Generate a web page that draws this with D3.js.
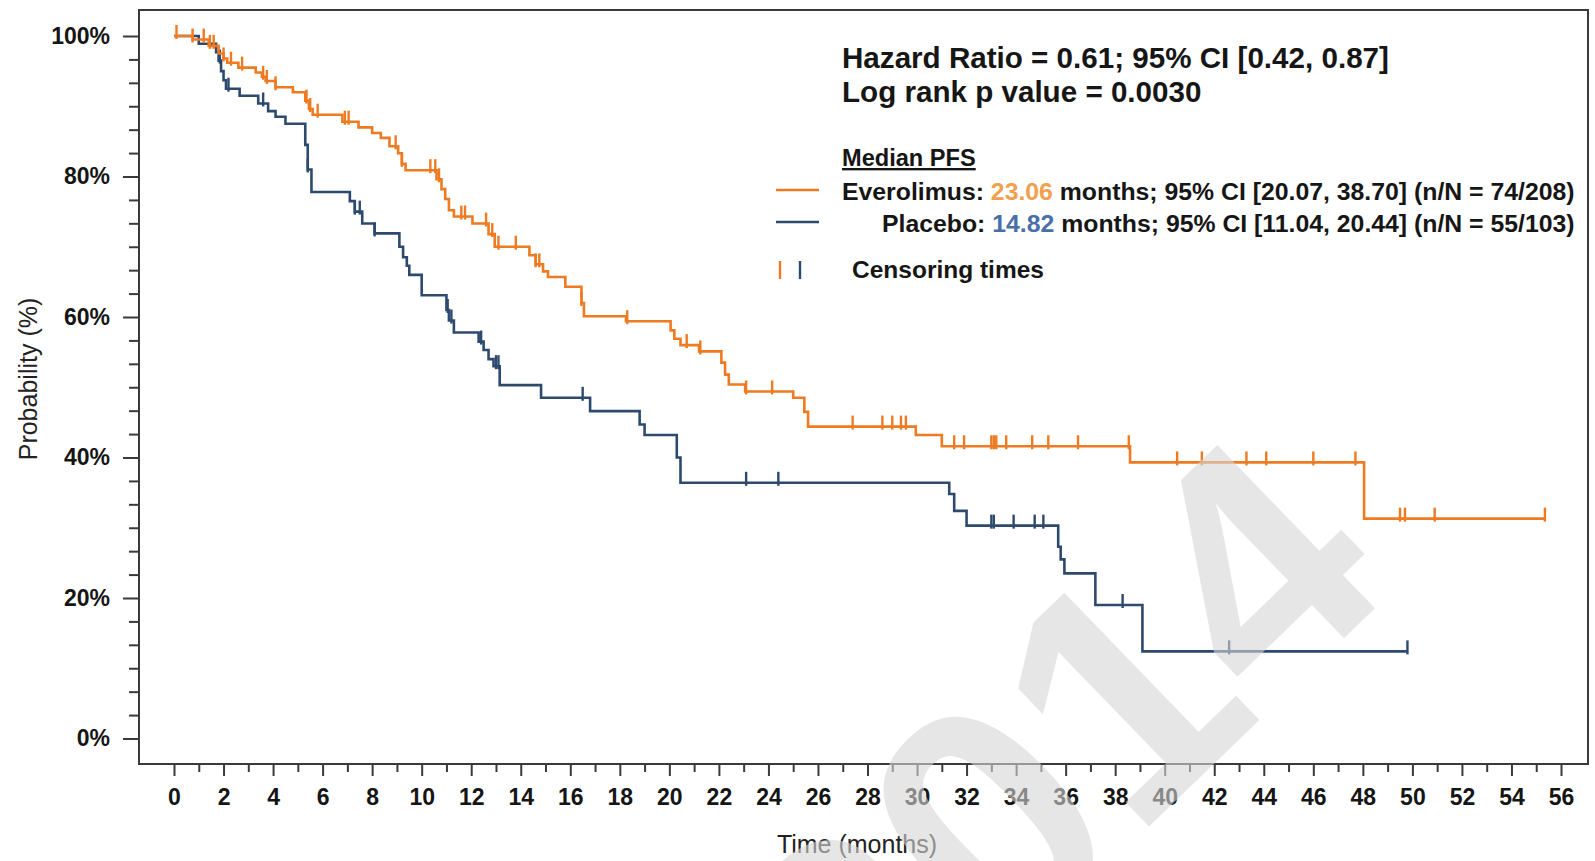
<!DOCTYPE html>
<html><head><meta charset="utf-8">
<script src="https://cdn.jsdelivr.net/npm/d3@7"></script>
<style>
html,body{margin:0;padding:0;background:#fff;}
svg{display:block;}
text{font-family:"Liberation Sans",Arial,Helvetica,sans-serif;}
</style></head><body>
<svg id="chart" width="1595" height="861"></svg>
<script>
// ---------------- data ----------------
const xTickValues = d3.range(0, 57, 2);          // labelled months
const xMinorValues = d3.range(1, 56, 2);         // unlabelled months
const yTickValues = [0, 20, 40, 60, 80, 100];    // labelled %
const yTickLabels = ["0%", "20%", "40%", "60%", "80%", "100%"];

// Everolimus KM steps (time in months, survival %)
const evTimes = [0, 0.75, 1.4, 1.8, 2.0, 2.15, 2.6, 3.3, 3.55, 3.7, 4.1, 4.8, 5.3, 5.45, 5.6, 6.8, 7.45, 8.0, 8.35, 8.7, 9.05, 9.2, 9.35,
  10.6, 10.8, 10.95, 11.1, 11.3, 12.05, 12.7, 12.95, 14.35, 14.6, 14.9, 15.1, 15.8, 16.45, 16.55, 18.25, 20.05, 20.2, 20.45, 21.2,
  22.1, 22.25, 22.4, 23.06, 25.0, 25.45, 25.6, 29.95, 31.0, 38.6, 48.05];
const evSurv = [100, 99.5, 98.6, 97.5, 96.8, 96.2, 95.5, 94.8, 94.2, 93.6, 92.7, 92.0, 90.8, 89.6, 88.8, 87.8, 87.0, 86.2, 85.5, 84.3, 83.3, 81.8, 80.9,
  79.6, 78.2, 76.8, 75.2, 74.3, 73.3, 71.8, 70.0, 68.8, 67.5, 66.5, 65.7, 64.3, 62.0, 60.1, 59.4, 58.1, 56.9, 56.0, 55.1,
  53.5, 51.8, 50.4, 49.4, 48.5, 46.5, 44.4, 43.2, 41.6, 39.3, 31.3];
const evEnd = 55.35;
const evCensor = [0.1, 0.75, 1.2, 1.45, 1.6, 2.0, 2.3, 2.75, 3.6, 3.75, 4.1, 5.35, 5.5, 5.8, 6.9, 7.05, 8.95, 9.2, 10.35, 10.55, 10.7,
  11.6, 11.75, 12.6, 12.85, 13.1, 13.8, 14.6, 14.75, 16.45, 18.3, 20.7, 21.25, 23.1, 24.15, 27.4, 28.6, 29.0, 29.35, 29.55,
  31.5, 31.9, 33.0, 33.1, 33.2, 33.6, 34.65, 35.3, 36.5, 38.55, 40.5, 41.5, 43.3, 44.1, 46.0, 47.7, 49.5, 49.7, 50.9, 55.35];

// Placebo KM steps
const plTimes = [0, 1.0, 1.7, 1.8, 1.9, 2.0, 2.1, 2.65, 3.4, 3.8, 4.1, 4.5, 5.3, 5.4, 5.55, 7.1, 7.3, 7.6, 8.1, 9.1, 9.25, 9.4, 9.5, 10.0,
  11.0, 11.1, 11.3, 12.3, 12.5, 12.7, 12.9, 13.15, 14.82, 16.8, 18.8, 19.0, 20.3, 20.45, 31.3, 31.5, 32.0, 35.7, 35.8, 35.95, 37.2, 39.1];
const plSurv = [100, 98.9, 97.7, 96.5, 95.0, 93.7, 92.5, 91.5, 90.4, 89.3, 88.5, 87.5, 84.5, 81.0, 77.8, 76.5, 75.0, 73.3, 71.9, 70.0, 68.5, 67.3, 66.0, 63.1,
  61.0, 59.5, 57.8, 56.5, 55.3, 54.0, 53.0, 50.3, 48.5, 46.6, 44.7, 43.2, 40.0, 36.4, 34.8, 32.4, 30.3, 27.3, 25.5, 23.5, 19.0, 12.4];
const plEnd = 49.8;
const plCensor = [1.85, 2.2, 3.6, 5.4, 7.3, 7.5, 8.1, 11.05, 11.2, 12.4, 13.0, 13.1, 16.5, 23.1, 24.4, 33.0, 33.1, 33.9, 34.75, 35.1, 38.3, 42.6, 49.8];

const titleLines = ["Hazard Ratio = 0.61; 95% CI [0.42, 0.87]", "Log rank p value = 0.0030"];
const legendHeader = "Median PFS";
const legendNames = ["Everolimus", "Placebo"];
const legendMedians = ["23.06", "14.82"];
const legendRests = [" months; 95% CI [20.07, 38.70] (n/N = 74/208)", " months; 95% CI [11.04, 20.44] (n/N = 55/103)"];
const censorLabel = "Censoring times";
const xTitle = "Time (months)";
const yTitle = "Probability (%)";
const watermark = "2014";

// ---------------- drawing ----------------
const ORANGE = "#EE7A22", BLUE = "#2D4A6E";
const ORANGE_TXT = "#F2A04E", BLUE_TXT = "#4A6EA6";
const AXIS = "#3a3a3a";

const svg = d3.select("#chart");
const L = 139, T = 10, R = 1588, B = 764;
const x = d3.scaleLinear().domain([0, 56]).range([174, 1561]);
const y = d3.scaleLinear().domain([0, 100]).range([738.5, 36]);

// frame
svg.append("rect").attr("x", L).attr("y", T).attr("width", R - L).attr("height", B - T)
  .attr("fill", "none").attr("stroke", AXIS).attr("stroke-width", 2);

// x axis major
const gxMaj = svg.append("g").attr("transform", `translate(0,${B})`)
  .call(d3.axisBottom(x).tickValues(xTickValues).tickSize(12).tickPadding(13).tickFormat(d3.format("d")));
const gxMin = svg.append("g").attr("transform", `translate(0,${B})`)
  .call(d3.axisBottom(x).tickValues(xMinorValues).tickSize(8).tickFormat(""));
// y axis
const gyMaj = svg.append("g").attr("transform", `translate(${L},0)`)
  .call(d3.axisLeft(y).tickValues(yTickValues).tickSize(16).tickPadding(13).tickFormat((d, i) => yTickLabels[i]));
const yMinor = d3.range(0, 100.001, 20 / 6).filter(v => Math.abs(v / 20 - Math.round(v / 20)) > 1e-6);
const gyMin = svg.append("g").attr("transform", `translate(${L},0)`)
  .call(d3.axisLeft(y).tickValues(yMinor).tickSize(10).tickFormat(""));

[gxMaj, gxMin, gyMaj, gyMin].forEach(g => {
  g.select(".domain").remove();
  g.selectAll(".tick line").attr("stroke", AXIS).attr("stroke-width", 2);
  g.selectAll(".tick text").attr("fill", "#151515").attr("font-size", 23).attr("font-weight", "bold")
    .attr("font-family", '"Liberation Sans",Arial,sans-serif');
});

// axis titles
svg.append("text").attr("x", 857).attr("y", 853).attr("text-anchor", "middle")
  .attr("font-size", 25).attr("fill", "#222").text(xTitle);
svg.append("text").attr("transform", "translate(37,379) rotate(-90)").attr("text-anchor", "middle")
  .attr("font-size", 25).attr("fill", "#222").text(yTitle);

// KM curves
function stepData(times, surv, end) {
  const pts = times.map((t, i) => [t, surv[i]]);
  pts.push([end, surv[surv.length - 1]]);
  return pts;
}
function survAt(times, surv, t) {
  let s = surv[0];
  for (let i = 0; i < times.length; i++) { if (times[i] <= t) s = surv[i]; }
  return s;
}
const line = d3.line().x(d => x(d[0])).y(d => y(d[1])).curve(d3.curveStepAfter);

const series = [
  { times: evTimes, surv: evSurv, end: evEnd, cens: evCensor, color: ORANGE },
  { times: plTimes, surv: plSurv, end: plEnd, cens: plCensor, color: BLUE }
];
series.slice().reverse().forEach(s => {
  svg.append("path").datum(stepData(s.times, s.surv, s.end)).attr("d", line)
    .attr("fill", "none").attr("stroke", s.color).attr("stroke-width", 2.6);
  svg.append("g").selectAll("line").data(s.cens).join("line")
    .attr("x1", d => x(d)).attr("x2", d => x(d))
    .attr("y1", d => y(survAt(s.times, s.surv, d)) - 11)
    .attr("y2", d => y(survAt(s.times, s.surv, d)) + 3)
    .attr("stroke", s.color).attr("stroke-width", 2.4);
});

// legend / annotation
svg.append("text").attr("x", 842).attr("y", 68).attr("font-size", 29.6).attr("font-weight", "bold")
  .attr("fill", "#161616").text(titleLines[0]);
svg.append("text").attr("x", 842).attr("y", 102).attr("font-size", 29.6).attr("font-weight", "bold")
  .attr("fill", "#161616").text(titleLines[1]);
svg.append("text").attr("x", 842).attr("y", 166).attr("font-size", 23.6).attr("font-weight", "bold")
  .attr("fill", "#161616").attr("text-decoration", "underline").text(legendHeader);

const rowX = [842, 882], rowY = [200, 232], rowCol = [ORANGE_TXT, BLUE_TXT], lineCol = [ORANGE, BLUE];
legendNames.forEach((n, i) => {
  const t = svg.append("text").attr("x", rowX[i]).attr("y", rowY[i]).attr("font-size", 24.8)
    .attr("font-weight", "bold").attr("fill", "#161616");
  t.append("tspan").text(n + ": ");
  t.append("tspan").attr("fill", rowCol[i]).text(legendMedians[i]);
  t.append("tspan").text(legendRests[i]);
  svg.append("line").attr("x1", 776).attr("x2", 819).attr("y1", rowY[i] - 10).attr("y2", rowY[i] - 10)
    .attr("stroke", lineCol[i]).attr("stroke-width", 2.6);
});
svg.append("line").attr("x1", 780).attr("x2", 780).attr("y1", 261).attr("y2", 279).attr("stroke", ORANGE).attr("stroke-width", 2.4);
svg.append("line").attr("x1", 800).attr("x2", 800).attr("y1", 261).attr("y2", 279).attr("stroke", BLUE).attr("stroke-width", 2.4);
svg.append("text").attr("x", 852).attr("y", 278).attr("font-size", 24.5).attr("font-weight", "bold")
  .attr("fill", "#161616").text(censorLabel);

// watermark
svg.append("text").attr("transform", "translate(870,1096) rotate(-44)")
  .attr("font-size", 330).attr("font-weight", "bold").attr("fill", "rgb(214,214,214)").attr("fill-opacity", 0.6)
  .text(watermark);
</script>
</body></html>
